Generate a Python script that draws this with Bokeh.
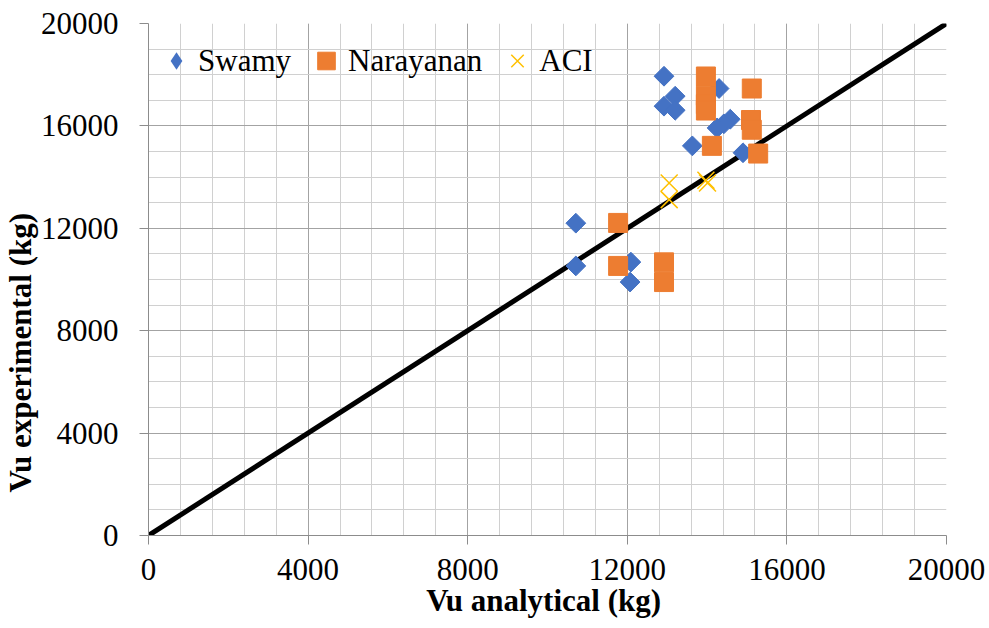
import math
from bokeh.plotting import figure
from bokeh.models import Range1d, FixedTicker, Legend, LegendItem, Title
from bokeh.embed import file_html
from bokeh.resources import INLINE

# ---- data ----
swamy_x = [12920, 13200, 12920, 13200, 14300, 14580, 14420, 14250, 13630, 14900, 10710, 10710, 12090, 12070]
swamy_y = [17940, 17160, 16770, 16610, 17460, 16260, 16080, 15920, 15220, 14950, 12200, 10530, 10680, 9900]

nara_x = [13970, 13970, 13970, 13970, 15120, 15100, 15120, 14120, 15280, 11770, 11770, 12920, 12920]
nara_y = [17930, 17180, 16850, 16600, 17460, 16230, 15850, 15220, 14920, 12210, 10530, 10670, 9900]

aci_x = [13050, 13050, 13970, 14010]
aci_y = [13770, 13120, 13880, 13770]

line_x = [0, 20000]
line_y = [0, 20000]

major_ticks = [0, 4000, 8000, 12000, 16000, 20000]
x_minor = [v for v in range(0, 20001, 800)]
y_minor = [v for v in range(0, 20001, 1000)]

FONT = "Liberation Serif"

p = figure(width=989, height=628, output_backend="svg", toolbar_location=None,
           x_range=Range1d(0, 20000), y_range=Range1d(0, 20000),
           min_border_left=148, min_border_right=43, min_border_top=23, min_border_bottom=93)
p.outline_line_color = None
p.background_fill_color = "white"

p.xaxis.ticker = FixedTicker(ticks=major_ticks, minor_ticks=x_minor)
p.yaxis.ticker = FixedTicker(ticks=major_ticks, minor_ticks=y_minor)

for ax in (p.xaxis, p.yaxis):
    ax.axis_line_color = "#8c8c8c"
    ax.major_tick_line_color = "#8c8c8c"
    ax.major_tick_out = 9
    ax.major_tick_in = 0
    ax.minor_tick_line_color = None
    ax.major_label_text_font = FONT
    ax.major_label_text_font_size = "31px"
    ax.major_label_text_color = "black"

p.xaxis.major_label_standoff = 14
p.yaxis.major_label_standoff = 21

p.xaxis.axis_label = "Vu  analytical (kg)"
p.xaxis.axis_label_text_font = FONT
p.xaxis.axis_label_text_font_size = "31px"
p.xaxis.axis_label_text_font_style = "bold"
p.xaxis.axis_label_text_color = "black"
p.xaxis.axis_label_standoff = 0

for g in (p.xgrid, p.ygrid):
    g.grid_line_color = "#a3a3a3"
    g.grid_line_width = 1
    g.minor_grid_line_color = "#d0d0d0"
    g.minor_grid_line_width = 1
p.xgrid.ticker = FixedTicker(ticks=major_ticks, minor_ticks=x_minor)
p.ygrid.ticker = FixedTicker(ticks=major_ticks, minor_ticks=y_minor)

# y axis title, set lower along the axis as in the reference
ytitle = Title(text="Vu  experimental (kg)", align="left", offset=43, standoff=0,
               text_font=FONT, text_font_size="31px", text_font_style="bold",
               text_color="black")
p.add_layout(ytitle, "left")

p.line(line_x, line_y, line_color="black", line_width=5)

r_s = p.scatter(swamy_x, swamy_y, marker="square", angle=math.pi / 4, size=14,
                fill_color="#4472C4", line_color="#4472C4")
r_n = p.scatter(nara_x, nara_y, marker="square", size=19,
                fill_color="#ED7D31", line_color="#ED7D31")
r_a = p.scatter(aci_x, aci_y, marker="x", size=24, line_color="#FFC000", line_width=1.5)

# legend glyph for the diamond symbol (legend glyphs are drawn unrotated):
# the Swamy points as zero-size diamonds, so only the legend shows them
r_s_leg = p.scatter(swamy_x, swamy_y, marker="diamond", size=0,
                    fill_color="#4472C4", line_color="#4472C4", line_width=0)

legend = Legend(items=[LegendItem(label="Swamy", renderers=[r_s_leg]),
                       LegendItem(label="Narayanan", renderers=[r_n]),
                       LegendItem(label="ACI", renderers=[r_a])],
                orientation="horizontal", location="top_left",
                glyph_width=44, glyph_height=63, label_standoff=0, spacing=13,
                padding=0, margin=6, border_line_color=None,
                background_fill_alpha=0,
                label_text_font=FONT, label_text_font_size="31px", label_text_color="black")
p.add_layout(legend)

open("out.html", "w").write(file_html(p, INLINE))
